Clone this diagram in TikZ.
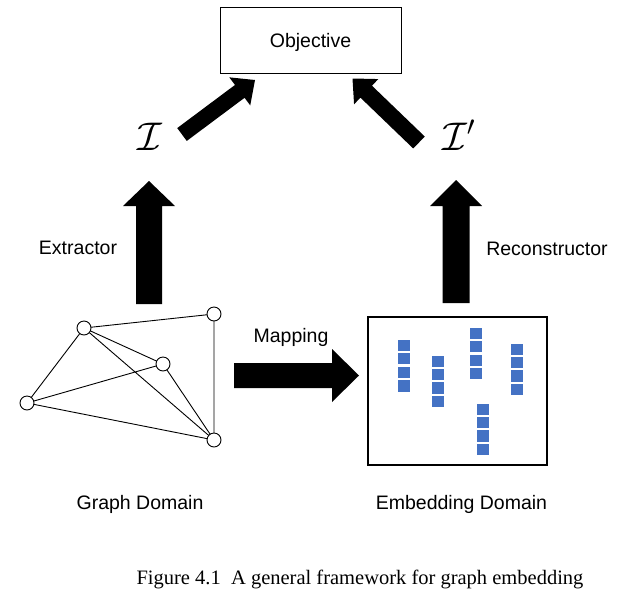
\RequirePackage{fix-cm}
\documentclass[tikz,border=0pt]{standalone}
\usepackage{fontspec}
\setmainfont{Liberation Serif}
\newfontfamily\arialfont{Liberation Sans}
\usetikzlibrary{calc}
\definecolor{embblue}{RGB}{68,114,196}
% block arrow: tail, tip, shaft half width, head half width, head length
\newcommand\blockarr[5]{%
  \coordinate (hb) at ($(#2)!#5!(#1)$);
  \fill[black] ($(#1)!#3!90:(#2)$) -- ($(hb)!#3!-90:(#1)$) -- ($(hb)!#4!-90:(#1)$) -- (#2)
    -- ($(hb)!#4!90:(#1)$) -- ($(hb)!#3!90:(#1)$) -- ($(#1)!#3!-90:(#2)$) -- cycle;}
\tikzset{
  lbl/.style={font=\arialfont\fontsize{19.5}{20}\selectfont, inner sep=0pt},
  vert/.style={circle, draw, fill=white, minimum size=14pt, inner sep=0pt, line width=0.9pt},
  edge/.style={line width=0.9pt},
  emb/.style={fill=embblue, minimum size=11.3pt, inner sep=0pt},
  calI/.style={font=\fontsize{40}{40}\selectfont, inner sep=0pt}
}
\begin{document}
\begin{tikzpicture}[x=1pt,y=-1pt]
\useasboundingbox (0,0) rectangle (644,608);
% Objective
\node[draw, line width=0.9pt, minimum width=181pt, minimum height=66pt, lbl, text height=14pt, text depth=0pt] (obj) at (310.5,40) {Objective};
% script I labels
\node[calI, anchor=base] (I) at (150,150) {$\mathcal{I}$};
\node[calI, anchor=base west] (Ip) at (442,150) {$\mathcal{I}'$};
% block arrows
\coordinate (ltail) at (182,134.5); \coordinate (ltip) at (255,80);
\coordinate (rtail) at (419,142.5); \coordinate (rtip) at (352.5,78.5);
\coordinate (vltail) at (149,304); \coordinate (vltip) at (149,181);
\coordinate (vrtail) at (456,303); \coordinate (vrtip) at (456,180);
\coordinate (mtail) at (234,375.5); \coordinate (mtip) at (359,375.5);
\blockarr{ltail}{ltip}{8pt}{17.5pt}{19pt}
\blockarr{rtail}{rtip}{8.3pt}{17.5pt}{19pt}
\blockarr{vltail}{vltip}{13pt}{26pt}{25pt}
\blockarr{vrtail}{vrtip}{13.5pt}{26pt}{26pt}
\blockarr{mtail}{mtip}{12.5pt}{26.5pt}{27pt}
% labels
\node[lbl, anchor=base] (ext) at (78,254) {Extractor};
\node[lbl, anchor=base] (rec) at (547,255) {Reconstructor};
\node[lbl, anchor=base] (map) at (291,342) {Mapping};
\node[lbl, anchor=base] (gd) at (140,509.5) {Graph Domain};
\node[lbl, anchor=base] (ed) at (461.5,509.5) {Embedding Domain};
% graph
\coordinate (ga) at (84,328); \coordinate (gb) at (214,314); \coordinate (gc) at (163,364);
\coordinate (gd0) at (27,403); \coordinate (ge) at (214,440);
\draw[edge] (ga) -- (gb) (ga) -- (gc) (ga) -- (ge) (ga) -- (gd0) (gd0) -- (gc) (gd0) -- (ge) (gc) -- (ge) (gb) -- (ge);
\node[vert] (va) at (ga) {};
\node[vert] (vb) at (gb) {};
\node[vert] (vc) at (gc) {};
\node[vert] (vd) at (gd0) {};
\node[vert] (ve) at (ge) {};
% embedding domain
\node[draw, line width=1.3pt, minimum width=179pt, minimum height=148pt, inner sep=0pt] (embbox) at (457.5,391) {};
\foreach \y [count=\i] in {345.3,358.7,372.3,386} \node[emb] (sa\i) at (404,\y) {};
\foreach \y [count=\i] in {361.7,374.8,388,401.2} \node[emb] (sb\i) at (438,\y) {};
\foreach \y [count=\i] in {333.5,346.8,360.2,373.5} \node[emb] (sc\i) at (476,\y) {};
\foreach \y [count=\i] in {349.3,362.6,376,389.3} \node[emb] (sd\i) at (517,\y) {};
\foreach \y [count=\i] in {409.5,422.8,436,449.3} \node[emb] (se\i) at (483,\y) {};
% caption
\node[font=\fontsize{20.5}{21}\selectfont, anchor=base, inner sep=0pt] (cap) at (360,584) {Figure 4.1\hspace{0.5em}A general framework for graph embedding};
\end{tikzpicture}
\end{document}
